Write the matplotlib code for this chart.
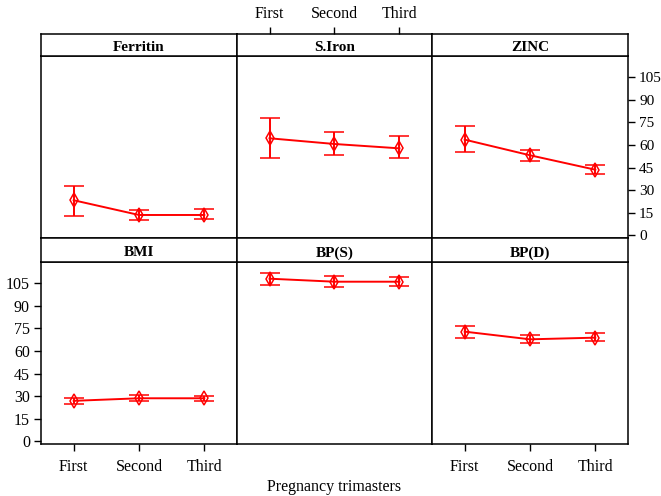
import matplotlib
matplotlib.use("Agg")
import matplotlib.pyplot as plt
import numpy as np

plt.rcParams['font.family'] = ['Liberation Serif', 'DejaVu Serif']

categories = ["First", "Second", "Third"]
yticks = [0, 15, 30, 45, 60, 75, 90, 105]

panels = ["Ferritin", "S.Iron", "ZINC", "BMI", "BP(S)", "BP(D)"]
ferritin_mean = [23.3, 13.5, 13.5]
ferritin_low = [12.6, 10.0, 10.9]
ferritin_high = [32.8, 16.9, 17.5]
siron_mean = [64.5, 60.7, 57.8]
siron_low = [51.2, 53.4, 51.2]
siron_high = [78.2, 68.4, 65.8]
zinc_mean = [63.6, 53.2, 43.6]
zinc_low = [55.2, 49.2, 40.5]
zinc_high = [72.4, 56.9, 46.5]
bmi_mean = [26.9, 28.6, 28.6]
bmi_low = [24.7, 26.6, 27.1]
bmi_high = [28.8, 30.8, 30.4]
bps_mean = [108.1, 106.1, 106.1]
bps_low = [104.1, 102.4, 103.2]
bps_high = [111.8, 110.1, 109.0]
bpd_mean = [72.9, 67.8, 68.9]
bpd_low = [68.9, 65.6, 66.9]
bpd_high = [76.4, 70.7, 71.8]

data = {
    "Ferritin": (ferritin_mean, ferritin_low, ferritin_high),
    "S.Iron": (siron_mean, siron_low, siron_high),
    "ZINC": (zinc_mean, zinc_low, zinc_high),
    "BMI": (bmi_mean, bmi_low, bmi_high),
    "BP(S)": (bps_mean, bps_low, bps_high),
    "BP(D)": (bpd_mean, bpd_low, bpd_high),
}

W, H = 661, 496
fig = plt.figure(figsize=(W / 100, H / 100), dpi=100)

cols = [(41, 237), (237, 432), (432, 628)]
rows = [((34, 56), (56, 238)), ((238, 262), (262, 444))]

def rect(x0, x1, y0, y1):
    return [x0 / W, 1 - y1 / H, (x1 - x0) / W, (y1 - y0) / H]

x = np.arange(1, 4)
lw_frame = 1.1
for i, name in enumerate(panels):
    r, c = divmod(i, 3)
    (sy0, sy1), (py0, py1) = rows[r]
    x0, x1 = cols[c]
    ax = fig.add_axes(rect(x0, x1, py0, py1))
    sax = fig.add_axes(rect(x0, x1, sy0, sy1))
    sax.set_xticks([]); sax.set_yticks([])
    for s in sax.spines.values():
        s.set_linewidth(lw_frame)
    sax.text(0.5, 0.38, name, ha='center', va='center', fontsize=11,
             fontweight='bold', transform=sax.transAxes)

    mean, low, high = data[name]
    mean = np.array(mean); low = np.array(low); high = np.array(high)
    ax.errorbar(x, mean, yerr=[mean - low, high - mean], color='red',
                lw=1.4, capsize=7, capthick=1.4, elinewidth=1.4,
                marker='d', markersize=7, markerfacecolor='none',
                markeredgecolor='red', markeredgewidth=1.1)
    ax.set_xlim(0.5, 3.5)
    ax.set_ylim(-1.8, 119.2)
    for s in ax.spines.values():
        s.set_linewidth(lw_frame)
    ax.tick_params(direction='out', length=5, width=1, labelsize=11.5, pad=2)

    # x axis
    if r == 1 and c in (0, 2):
        ax.set_xticks(x)
        ax.set_xticklabels(categories)
        ax.tick_params(axis='x', pad=6)
    elif r == 0 and c == 1:
        ax.set_xticks([])
        sax.set_xlim(0.5, 3.5)
        sax.set_xticks(x)
        sax.set_xticklabels(categories)
        sax.xaxis.set_ticks_position('top')
        sax.tick_params(axis='x', direction='out', length=5, width=1,
                        labelsize=11.5, pad=4)
    else:
        ax.set_xticks([])

    # y axis
    if r == 1 and c == 0:
        ax.set_yticks(yticks)
        ax.tick_params(axis='y', pad=3)
    elif r == 0 and c == 2:
        ax.set_yticks(yticks)
        ax.yaxis.set_ticks_position('right')
        ax.tick_params(axis='y', pad=3, labelsize=11)
    else:
        ax.set_yticks([])

fig.text((237 + 432) / 2 / W, 1 - 487 / H, "Pregnancy trimasters",
         ha='center', va='center', fontsize=11.5)

fig.savefig("out.png", dpi=100)
